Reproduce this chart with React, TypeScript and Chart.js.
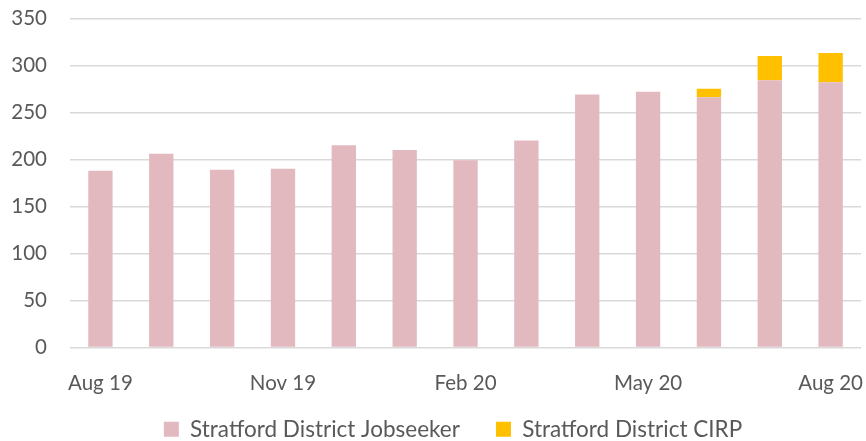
import React, { useEffect, useRef } from "react";
import { Chart, registerables } from "chart.js";

Chart.register(...registerables);

const months = ["Aug 19", "Sep 19", "Oct 19", "Nov 19", "Dec 19", "Jan 20", "Feb 20", "Mar 20", "Apr 20", "May 20", "Jun 20", "Jul 20", "Aug 20"];
const jobseeker = [188, 206, 189, 190, 215, 210, 199, 220, 269, 272, 266, 284, 282];
const cirp = [0, 0, 0, 0, 0, 0, 0, 0, 0, 0, 9, 26, 31];
const yTicks = [0, 50, 100, 150, 200, 250, 300, 350];

const LEGEND_PAD = 36;
const LEGEND_CENTER_Y = 429;
const LEGEND_SHIFT_X = 20;

const legendFix = {
  id: "legendFix",
  afterInit(chart: any) {
    const l = chart.legend;
    if (!l) return;
    const fit = l.fit;
    l.fit = function () {
      fit.call(this);
      this.height = 42;
    };
    const draw = l.draw;
    l.draw = function () {
      const t = this.top;
      const lf = this.left;
      const rt = this.right;
      const half = this._itemHeight ? this._itemHeight / 2 : 11;
      this.top = LEGEND_CENTER_Y - LEGEND_PAD - half;
      this.left = lf + LEGEND_SHIFT_X;
      this.right = rt + LEGEND_SHIFT_X;
      draw.call(this);
      this.top = t;
      this.left = lf;
      this.right = rt;
    };
  },
};

export default function App() {
  const ref = useRef<HTMLCanvasElement | null>(null);
  useEffect(() => {
    document.body.style.margin = "0";
    const tickFont = { family: "Lato, 'Open Sans', sans-serif", size: 20.5 };
    const legendFont = { family: "Lato, 'Open Sans', sans-serif", size: 22.5 };
    const chart = new Chart(ref.current!, {
      type: "bar",
      data: {
        labels: months,
        datasets: [
          { label: "Stratford District Jobseeker", data: jobseeker, backgroundColor: "#E3B9C0", categoryPercentage: 1, barPercentage: 0.4 },
          { label: "Stratford District CIRP", data: cirp, backgroundColor: "#FFC000", categoryPercentage: 1, barPercentage: 0.4 },
        ],
      },
      plugins: [legendFix],
      options: {
        animation: false,
        responsive: false,
        maintainAspectRatio: false,
        layout: { padding: { left: 0, right: 0, top: 0, bottom: 0 } },
        plugins: {
          legend: {
            position: "bottom",
            labels: { font: legendFont, color: "#595959", boxWidth: 15, boxHeight: 15, padding: LEGEND_PAD },
          },
          tooltip: { enabled: false },
        },
        scales: {
          x: {
            stacked: true,
            grid: { display: true, drawOnChartArea: false, drawTicks: true, tickLength: 21, tickColor: "rgba(0,0,0,0)" },
            border: { display: false },
            ticks: {
              font: tickFont,
              color: "#595959",
              autoSkip: false,
              maxRotation: 0,
              padding: 3,
              callback: (_v: any, i: number) => (i % 3 === 0 ? months[i] : ""),
            },
          },
          y: {
            stacked: true,
            min: 0,
            max: 350,
            afterBuildTicks: (axis: any) => {
              axis.ticks = yTicks.map((v) => ({ value: v }));
            },
            afterFit: (axis: any) => {
              axis.width = 70;
            },
            grid: { color: "#D9D9D9", lineWidth: 1.5, drawTicks: true, tickLength: 17, tickColor: "rgba(0,0,0,0)" },
            border: { display: false },
            ticks: { font: tickFont, color: "#595959", padding: 6 },
          },
        },
      },
    });
    return () => chart.destroy();
  }, []);
  return <canvas ref={ref} width={866} height={441} style={{ display: "block" }} />;
}
